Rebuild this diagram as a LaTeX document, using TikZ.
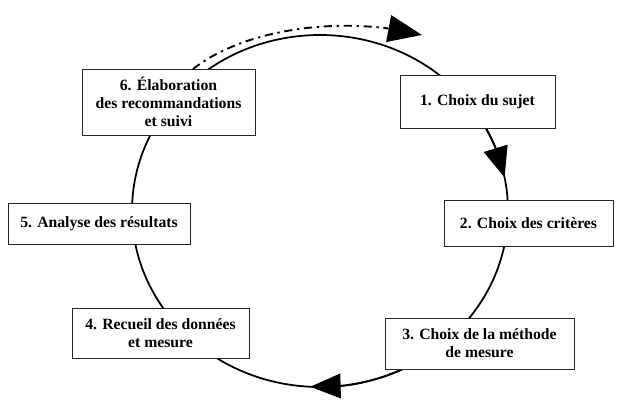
\documentclass[tikz,border=0pt]{standalone}
\usepackage{fontspec}
\setmainfont{Liberation Serif}
\usetikzlibrary{arrows.meta,bending,calc}

\begin{document}
\begin{tikzpicture}[x=0.03cm,y=0.03cm,
    etape/.style={draw=black!85, line width=0.7pt, fill=white, align=center,
      inner sep=0pt, font=\fontsize{13.4}{15.5}\selectfont\bfseries},
    boucle/.style={line width=1.5pt},
    tirets/.style={line width=1.6pt, dash pattern=on 7pt off 4pt on 2pt off 4pt},
    pointe/.style={-{Triangle[length=26pt,width=21pt,flex]}}]
  \useasboundingbox (0,0) rectangle (617,-418);
  % Cycle
  \coordinate (c) at (320,-211);
  \draw[boucle] (c) ellipse [x radius=188, y radius=176];
  \draw[boucle, pointe] ($(c)+(32:188 and 176)$)
    arc[start angle=32, end angle=11, x radius=188, y radius=176];
  \draw[boucle, pointe] ($(c)+(-60:188 and 176)$)
    arc[start angle=-60, end angle=-93, x radius=188, y radius=176];
  % Steps
  \node[etape, minimum width=4.65cm, minimum height=1.59cm] (b1) at (477.5,-101.5) {1. Choix du sujet};
  \node[etape, minimum width=5.07cm, minimum height=1.38cm] (b2) at (528.5,-223) {2. Choix des critères};
  \node[etape, minimum width=5.67cm, minimum height=1.53cm] (b3) at (479.5,-343.5) {3. Choix de la méthode\\de mesure};
  \node[etape, minimum width=5.31cm, minimum height=1.5cm] (b4) at (160.5,-333) {4. Recueil des données\\et mesure};
  \node[etape, minimum width=5.46cm, minimum height=1.23cm] (b5) at (99,-223.5) {5. Analyse des résultats};
  \node[etape, minimum width=5.19cm, minimum height=1.98cm] (b6) at (168.5,-102) {6. Élaboration\\des recommandations\\et suivi};
  % Back to step 1
  \coordinate (dep) at (193,-69);
  \coordinate (arr) at (422,-35);
  \draw[tirets, -{Triangle[length=29pt,width=23pt,flex]}] (dep) .. controls (245,-28) and (345,-15) .. (arr);
\end{tikzpicture}
\end{document}
